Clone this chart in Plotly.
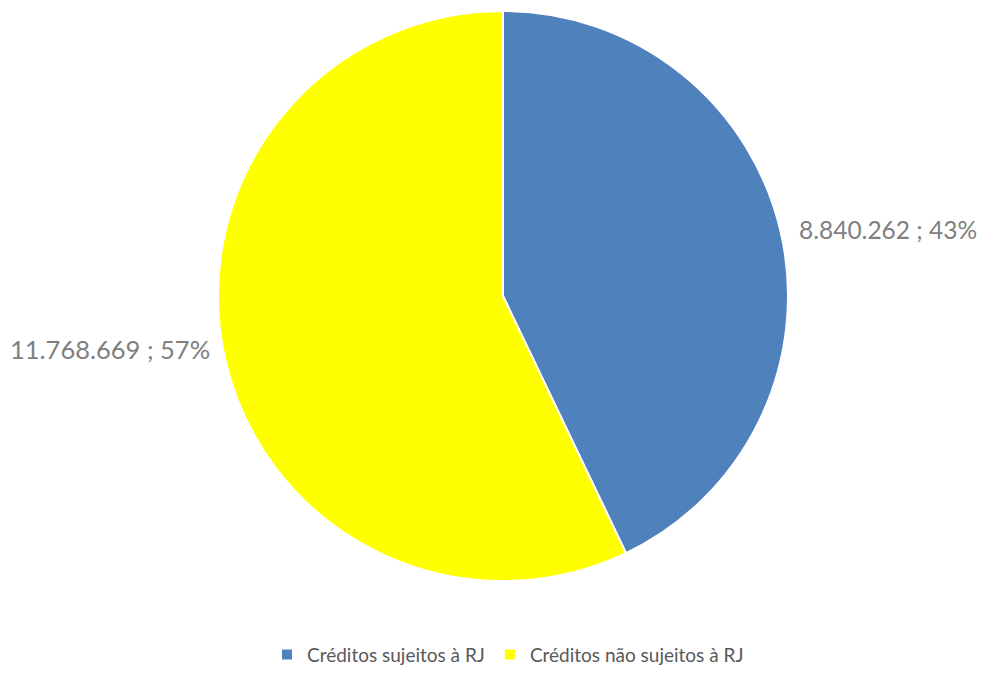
import plotly.graph_objects as go

categories = ["Créditos sujeitos à RJ", "Créditos não sujeitos à RJ"]
values = [8840262, 11768669]
colors = ["#4F81BD", "#FFFF00"]

total = sum(values)
def fmt(v):
    return f"{v:,}".replace(",", ".")
labels_text = [f"{fmt(v)} ; {round(100*v/total)}%" for v in values]

off = 8  # page body margin
W, H = 988 - 2 * off, 675 - 2 * off
cx, cy, r = 503 - off, 296 - off, 285

fig = go.Figure(go.Pie(
    labels=categories,
    values=values,
    marker=dict(colors=colors, line=dict(color="white", width=2)),
    sort=False,
    direction="clockwise",
    rotation=0,
    textinfo="none",
    hoverinfo="label+value+percent",
    domain=dict(x=[(cx - r) / W, (cx + r) / W], y=[1 - (cy + r) / H, 1 - (cy - r) / H]),
))

label_pos = [(888 - off, 229 - off), (110 - off, 349 - off)]
label_sizes = [24.5, 25.5]
for t, (x, y), s in zip(labels_text, label_pos, label_sizes):
    fig.add_annotation(x=x / W, y=1 - y / H, xref="paper", yref="paper",
                       xanchor="center", yanchor="middle",
                       text=t, showarrow=False,
                       font=dict(family="Lato, Open Sans, sans-serif", size=s, color="#7F7F7F"))

fig.update_layout(
    width=W, height=H,
    margin=dict(l=0, r=0, t=0, b=0, autoexpand=False),
    paper_bgcolor="white",
    plot_bgcolor="white",
    showlegend=True,
    legend=dict(orientation="h", x=(508 - off) / W, xanchor="center", y=-0.01, yanchor="bottom",
                font=dict(family="Lato, Open Sans, sans-serif", size=19, color="#595959"),
                itemwidth=30, traceorder="normal"),
)

fig.write_html("out.html")
